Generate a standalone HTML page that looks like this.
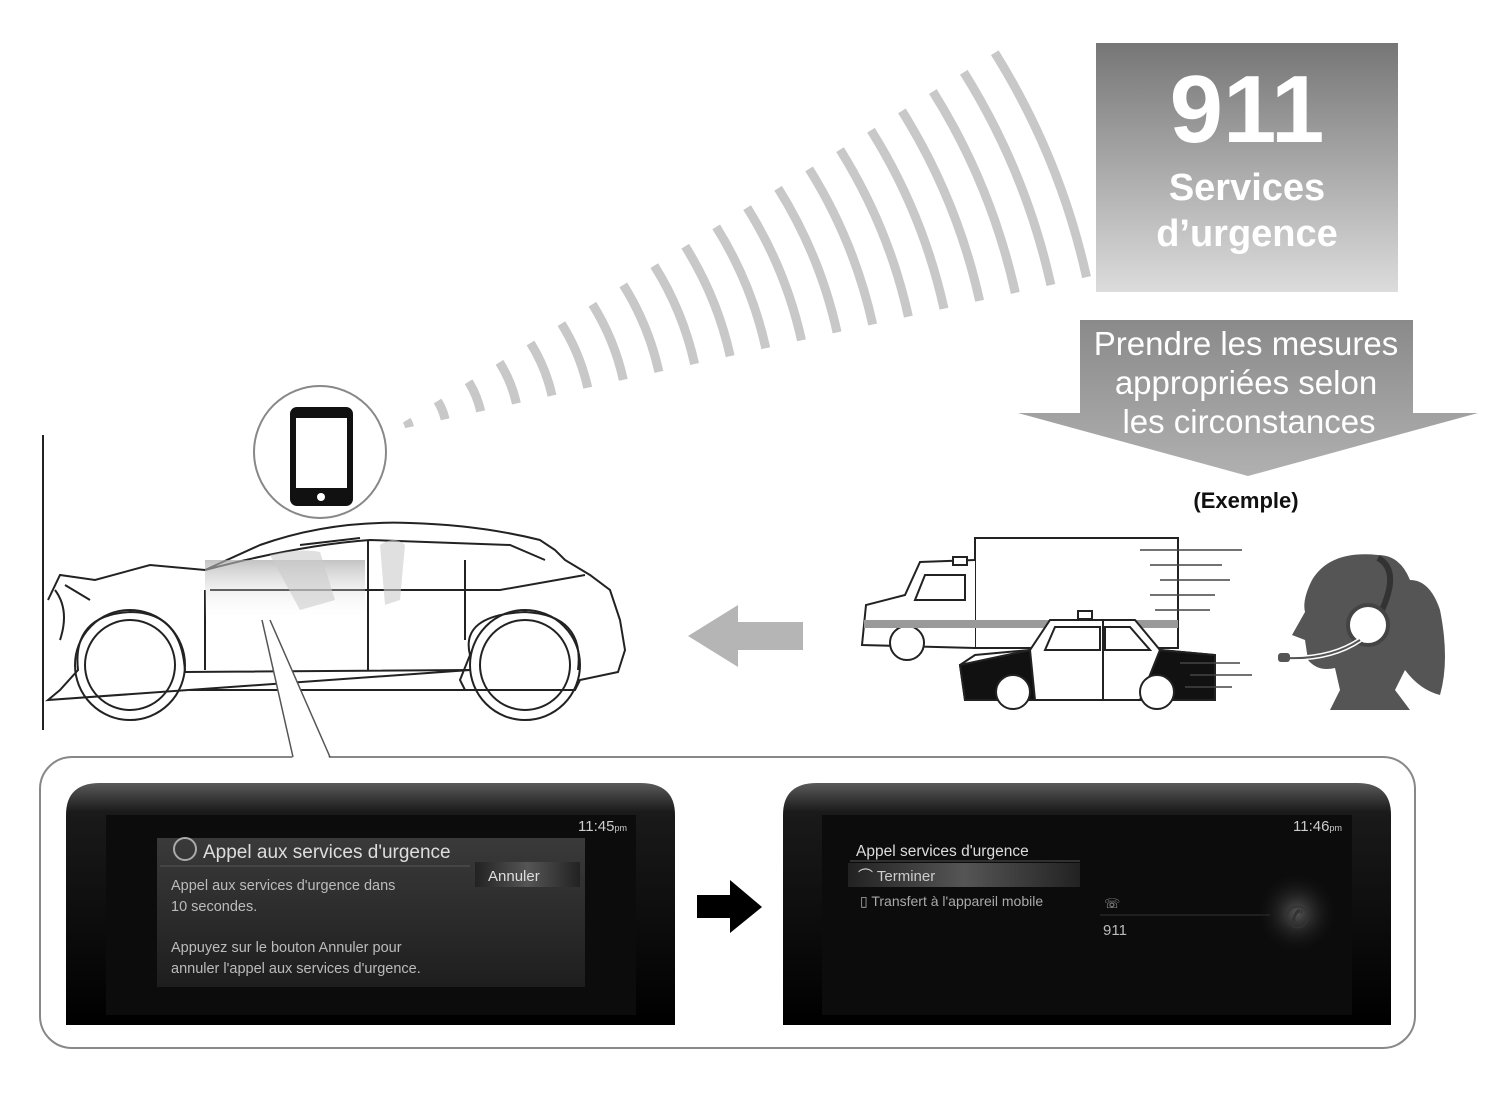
<!DOCTYPE html>
<html><head><meta charset="utf-8"><style>
body{margin:0;background:#fff;width:1489px;height:1111px;overflow:hidden;font-family:"Liberation Sans",sans-serif}
svg{display:block}
</style></head><body>
<svg width="1489" height="1111" viewBox="0 0 1489 1111" xmlns="http://www.w3.org/2000/svg">
<defs>
<linearGradient id="g911" x1="0" y1="0" x2="0" y2="1"><stop offset="0" stop-color="#767676"/><stop offset="1" stop-color="#dcdcdc"/></linearGradient>
<linearGradient id="garr" x1="0" y1="0" x2="0" y2="1"><stop offset="0" stop-color="#8a8a8a"/><stop offset="1" stop-color="#b0b0b0"/></linearGradient>
<linearGradient id="bez" x1="0" y1="0" x2="0" y2="1"><stop offset="0" stop-color="#5a5a5a"/><stop offset="0.12" stop-color="#1a1a1a"/><stop offset="1" stop-color="#000"/></linearGradient>
<linearGradient id="dlg" x1="0" y1="0" x2="0" y2="1"><stop offset="0" stop-color="#3a3a3a"/><stop offset="1" stop-color="#1e1e1e"/></linearGradient>
<linearGradient id="btn" x1="0" y1="0" x2="1" y2="0"><stop offset="0" stop-color="#222"/><stop offset="0.5" stop-color="#555"/><stop offset="1" stop-color="#222"/></linearGradient>
<radialGradient id="glow"><stop offset="0" stop-color="#555"/><stop offset="1" stop-color="#111" stop-opacity="0"/></radialGradient>
<linearGradient id="win" x1="0" y1="0" x2="0" y2="1"><stop offset="0" stop-color="#aaa"/><stop offset="1" stop-color="#fff" stop-opacity="0"/></linearGradient>
</defs>

<rect x="1096" y="43" width="302" height="249" fill="url(#g911)"/>
<text x="1247" y="142" text-anchor="middle" font-size="96" font-weight="bold" fill="#fff">911</text>
<text x="1247" y="200" text-anchor="middle" font-size="38" font-weight="bold" fill="#fff">Services</text>
<text x="1247" y="246" text-anchor="middle" font-size="38" font-weight="bold" fill="#fff">d’urgence</text>

<path d="M1080 320 H1413 V413 H1478 L1248 476 L1018 413 H1080 Z" fill="url(#garr)"/>
<text x="1246" y="355" text-anchor="middle" font-size="33" fill="#fff">Prendre les mesures</text>
<text x="1246" y="394" text-anchor="middle" font-size="33" fill="#fff">appropriées selon</text>
<text x="1249" y="433" text-anchor="middle" font-size="33" fill="#fff">les circonstances</text>
<text x="1246" y="508" text-anchor="middle" font-size="22" font-weight="bold" fill="#111">(Exemple)</text>

<g fill="none" stroke="#c8c8c8" stroke-width="9" id="waves"></g>

<circle cx="320" cy="452" r="66" fill="#fff" stroke="#888" stroke-width="2"/>
<rect x="290" y="407" width="63" height="99" rx="7" fill="#111"/>
<rect x="296" y="418" width="51" height="70" fill="#fff"/>
<circle cx="321" cy="497" r="4" fill="#fff"/>

<line x1="43" y1="435" x2="43" y2="730" stroke="#222" stroke-width="2"/>

<g fill="none" stroke="#222" stroke-width="2">
<path d="M48 600 L60 575 L95 580 L150 565 L205 570 L260 545 Q330 520 410 523 Q480 525 540 540 L555 550 L565 560 L590 575 L610 590 L620 620 L625 650 L618 672 L580 680 L575 690 L465 690 L460 680 L470 655 Q460 615 525 612 Q585 615 578 670 M470 670 L185 672 Q182 612 130 612 Q72 615 78 670 L60 690 L48 700 Z"/>
<path d="M205 570 Q300 545 370 540 L510 545 L545 560 M300 545 L360 538 M210 590 L500 590 L585 575"/>
<circle cx="130" cy="665" r="55"/><circle cx="130" cy="665" r="45"/>
<circle cx="525" cy="665" r="55"/><circle cx="525" cy="665" r="45"/>
<path d="M205 590 L205 670 M368 540 L368 670 M465 560 L465 640 M190 690 L470 690"/>
<path d="M55 590 Q70 610 60 640 M65 585 L90 600"/>
</g>
<rect x="205" y="560" width="160" height="60" fill="url(#win)" opacity="0.7"/>
<path d="M270 555 Q300 548 320 552 L335 600 L300 610 Z M380 545 Q395 535 405 545 L400 600 L385 605 Z" fill="#ccc" opacity="0.6"/>

<path d="M803 622 V650 H738 V667 L688 636 L738 605 V622 Z" fill="#b5b5b5"/>

<g stroke="#222" stroke-width="2" fill="#fff">
<rect x="975" y="538" width="203" height="110"/>
<path d="M975 560 L920 562 L905 595 L866 605 L862 645 L975 648"/>
<rect x="953" y="557" width="14" height="8"/>
<circle cx="907" cy="643" r="17"/>
</g>
<path d="M864 620 H1178 V628 H864 Z" fill="#999"/>
<path d="M925 575 H965 V600 H915 Z" fill="none" stroke="#222" stroke-width="2"/>
<g stroke="#444" stroke-width="1.5"><line x1="1140" y1="550" x2="1242" y2="550"/><line x1="1150" y1="565" x2="1222" y2="565"/><line x1="1160" y1="580" x2="1230" y2="580"/><line x1="1150" y1="595" x2="1215" y2="595"/><line x1="1155" y1="610" x2="1210" y2="610"/></g>
<g stroke="#222" stroke-width="2">
<path d="M960 665 L965 700 L1215 700 L1215 655 L1160 650 L1135 620 L1050 620 L1030 650 L975 655 Z" fill="#fff"/>
<path d="M960 665 L1030 650 L1035 700 L965 700 Z M1160 650 L1215 655 L1215 700 L1140 700 Z" fill="#111"/>
<path d="M1045 650 L1055 627 L1100 627 L1100 650 Z M1105 627 L1130 627 L1150 650 L1105 650 Z M1103 620 V700" fill="none"/>
<rect x="1078" y="611" width="14" height="8" fill="#fff"/>
<circle cx="1013" cy="692" r="17" fill="#fff"/><circle cx="1157" cy="692" r="17" fill="#fff"/>
</g>
<g stroke="#444" stroke-width="1.5"><line x1="1180" y1="663" x2="1240" y2="663"/><line x1="1190" y1="675" x2="1252" y2="675"/><line x1="1185" y1="687" x2="1232" y2="687"/></g>

<path d="M1378 555 Q1330 550 1312 580 Q1302 600 1305 612 L1292 635 L1305 640 L1308 660 Q1318 672 1335 668 L1340 690 L1330 710 L1410 710 L1395 690 L1405 670 Q1420 690 1440 695 Q1450 660 1440 610 Q1430 580 1410 580 Q1400 555 1378 555 Z" fill="#555"/>
<path d="M1378 558 Q1400 570 1382 610" fill="none" stroke="#333" stroke-width="6"/>
<circle cx="1368" cy="625" r="20" fill="#fff" stroke="#444" stroke-width="4"/>
<path d="M1360 640 Q1330 660 1285 658" fill="none" stroke="#fff" stroke-width="5"/>
<path d="M1360 640 Q1330 660 1285 658" fill="none" stroke="#555" stroke-width="2"/>
<rect x="1278" y="653" width="12" height="9" rx="3" fill="#555"/>

<rect x="40" y="757" width="1375" height="291" rx="32" fill="#fff" stroke="#888" stroke-width="2"/>
<path d="M262 620 L293 760 L330 760 L270 620" fill="#fff" stroke="none"/>
<path d="M262 620 L293 757 M270 620 L330 757" stroke="#555" stroke-width="1.5" fill="none"/>

<path d="M66 1025 V815 Q66 783 100 783 H640 Q675 783 675 815 V1025 Z" fill="url(#bez)"/>
<rect x="106" y="815" width="530" height="200" fill="#0c0c0c"/>
<text x="578" y="831" font-size="15" fill="#ccc">11:45<tspan font-size="9">pm</tspan></text>
<rect x="157" y="838" width="428" height="149" fill="url(#dlg)"/>
<circle cx="185" cy="849" r="11" fill="none" stroke="#aaa" stroke-width="2"/>
<text x="203" y="858" font-size="19" fill="#ddd">Appel aux services d'urgence</text>
<line x1="160" y1="866" x2="470" y2="866" stroke="#555"/>
<rect x="475" y="862" width="105" height="25" fill="url(#btn)"/>
<text x="488" y="881" font-size="15" fill="#ddd">Annuler</text>
<text x="171" y="890" font-size="14.5" fill="#bbb">Appel aux services d'urgence dans</text>
<text x="171" y="911" font-size="14.5" fill="#bbb">10 secondes.</text>
<text x="171" y="952" font-size="14.5" fill="#bbb">Appuyez sur le bouton Annuler pour</text>
<text x="171" y="973" font-size="14.5" fill="#bbb">annuler l'appel aux services d'urgence.</text>

<path d="M697 895 H730 V880 L762 907 L730 933 V918 H697 Z" fill="#000"/>

<path d="M783 1025 V815 Q783 783 817 783 H1357 Q1391 783 1391 815 V1025 Z" fill="url(#bez)"/>
<rect x="822" y="815" width="530" height="200" fill="#0c0c0c"/>
<text x="1293" y="831" font-size="15" fill="#ccc">11:46<tspan font-size="9">pm</tspan></text>
<text x="856" y="856" font-size="15.5" fill="#ddd">Appel services d'urgence</text>
<line x1="850" y1="861" x2="1080" y2="861" stroke="#555"/>
<rect x="848" y="863" width="232" height="24" fill="url(#btn)"/>
<text x="858" y="881" font-size="15" fill="#ccc">⌒ Terminer</text>
<text x="860" y="906" font-size="14" fill="#aaa">▯ Transfert à l'appareil mobile</text>
<text x="1104" y="908" font-size="13" fill="#aaa">☏</text>
<line x1="1100" y1="915" x2="1270" y2="915" stroke="#333"/>
<text x="1103" y="935" font-size="15" fill="#bbb">911</text>
<circle cx="1297" cy="913" r="40" fill="url(#glow)"/>
<text x="1285" y="928" font-size="30" fill="#333">✆</text>
</svg>
<script>
var g=document.getElementById('waves'),cx=388,cy=432,s='';
for(var i=0;i<20;i++){var r=22+i*36.5;var a1=-32*Math.PI/180,a2=-12.5*Math.PI/180;
var x1=cx+r*Math.cos(a1),y1=cy+r*Math.sin(a1),x2=cx+r*Math.cos(a2),y2=cy+r*Math.sin(a2);
s+='<path d="M'+x1.toFixed(1)+' '+y1.toFixed(1)+' A'+r+' '+r+' 0 0 1 '+x2.toFixed(1)+' '+y2.toFixed(1)+'"/>';}
g.innerHTML=s;
</script>
</body></html>
